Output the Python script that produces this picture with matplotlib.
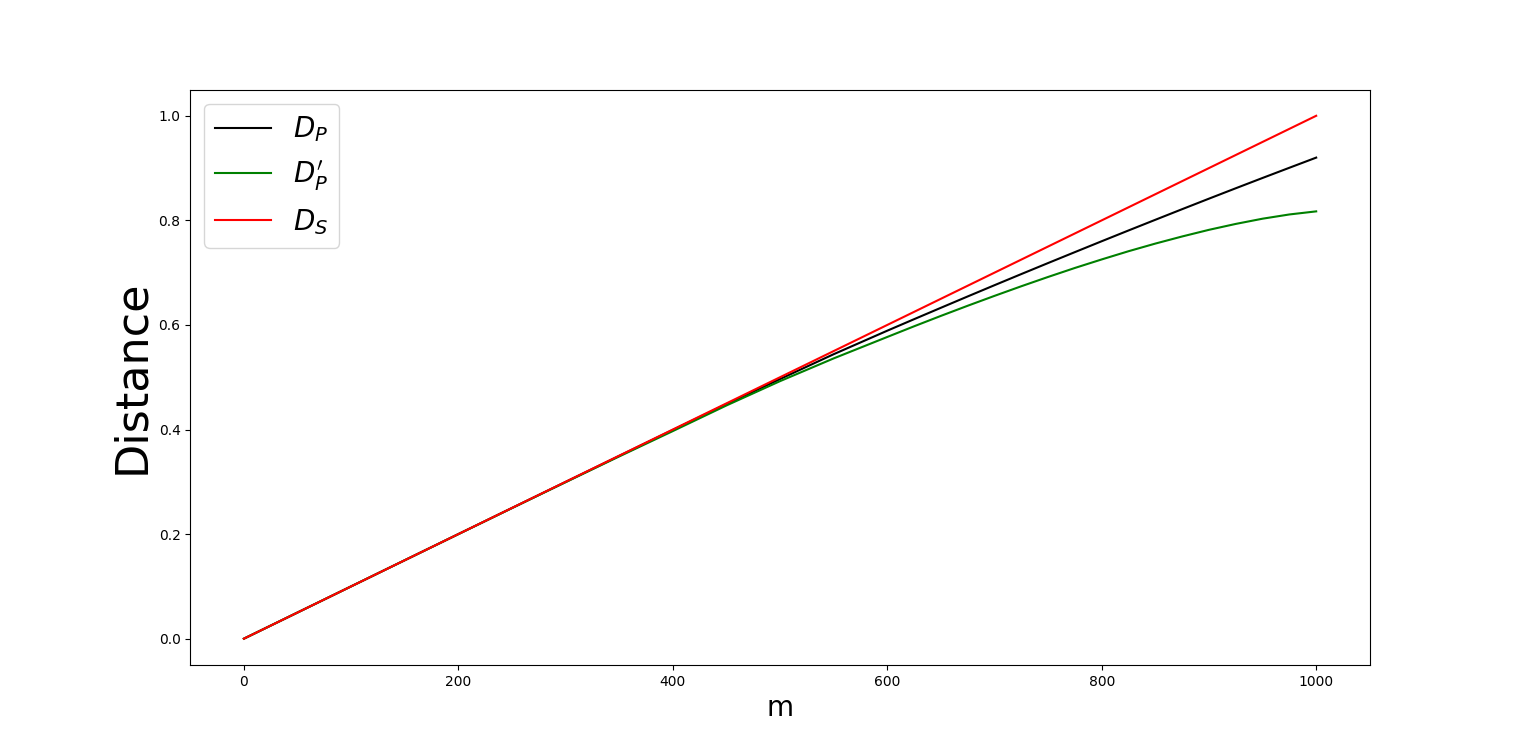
import matplotlib
matplotlib.use("Agg")
import matplotlib.pyplot as plt

# valores (mas puntos donde las curvas se doblan)
m = [0, 50, 100, 150, 200, 250, 300, 350, 400, 450, 500, 550, 600,
     625, 650, 675, 700, 725, 750, 775, 800, 825, 850, 875, 900, 925, 950, 975, 1000]

d_p = [0, 0.05, 0.1, 0.15, 0.2, 0.2499, 0.2997, 0.3495, 0.3992, 0.4485, 0.4965, 0.544, 0.589,
       0.611, 0.6328, 0.6545, 0.676, 0.6973, 0.7184, 0.7393, 0.7601, 0.7807, 0.8011,
       0.8214, 0.8415, 0.8614, 0.8811, 0.9006, 0.920]

d_p_prima = [0, 0.05, 0.1, 0.15, 0.1999, 0.2497, 0.2992, 0.3485, 0.397, 0.446, 0.4925, 0.536, 0.577,
             0.5974, 0.6173, 0.6367, 0.6556, 0.674, 0.6918, 0.709, 0.7253, 0.741, 0.7556,
             0.7692, 0.7819, 0.7932, 0.8032, 0.8113, 0.8172]

d_s = [0, 0.05, 0.1, 0.15, 0.2, 0.25, 0.3, 0.35, 0.4, 0.45, 0.5, 0.55, 0.6,
       0.625, 0.65, 0.675, 0.7, 0.725, 0.75, 0.775, 0.8, 0.825, 0.85, 0.875, 0.9, 0.925, 0.95, 0.975, 1.0]

fig = plt.figure(figsize=(15.22, 7.47), dpi=100)
plt.plot(m, d_p, color='black', label=r'$D_P$')
plt.plot(m, d_p_prima, color='green', label=r"$D_P'$")
plt.plot(m, d_s, color='red', label=r'$D_S$')
plt.xlabel('m', fontsize=20)
plt.ylabel('Distance', fontsize=32)
plt.legend(loc='upper left', fontsize=20)
plt.savefig('out.png', dpi=100)
